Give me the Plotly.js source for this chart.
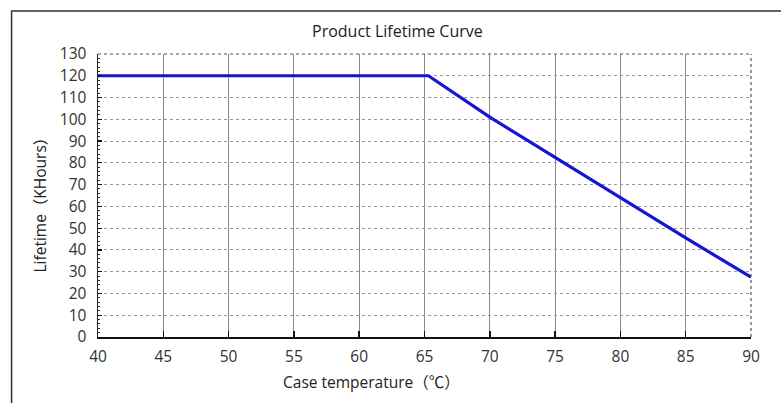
<!DOCTYPE html>
<html>
<head>
<meta charset="utf-8">
<script src="https://cdn.plot.ly/plotly-3.0.1.min.js"></script>
<style>html,body{margin:0;padding:0;background:#fff;}#chart{width:781px;height:403px;}</style>
</head>
<body>
<div id="chart"></div>
<script>
// Data
const temperature = [40, 65.3, 70, 75, 80, 85, 90];
const lifetime = [120, 120, 101, 82.5, 64, 45.5, 27.5];
const xTicks = [40, 45, 50, 55, 60, 65, 70, 75, 80, 85, 90];
const yTicks = [0, 10, 20, 30, 40, 50, 60, 70, 80, 90, 100, 110, 120, 130];
const chartTitle = 'Product Lifetime Curve';
const xTitle = 'Case temperature（℃）';
const yTitle = 'Lifetime（KHours）';

const W = 781, H = 403;
const L = 97.5, R = 751, T = 54, B = 337;
const px = x => (x - L) / (R - L);
const py = y => (B - y) / (B - T);
const FONT = '"Open Sans", "Noto Sans CJK SC", sans-serif';

const trace = {
  x: temperature, y: lifetime, type: 'scatter', mode: 'lines',
  line: {color: '#1515d6', width: 3.2}, hoverinfo: 'skip', cliponaxis: false
};

const layout = {
  width: W, height: H,
  margin: {l: L, r: W - R, t: T, b: H - B, pad: 0},
  paper_bgcolor: '#fff', plot_bgcolor: '#fff',
  showlegend: false,
  font: {family: FONT, size: 15.5, color: '#333'},
  xaxis: {
    range: [40, 90], tickvals: xTicks, ticktext: xTicks.map(String),
    showgrid: true, gridcolor: '#8a8a8a', gridwidth: 1,
    showline: true, linecolor: '#111', linewidth: 2,
    ticks: 'inside', ticklen: 6, tickcolor: '#111', tickwidth: 1.5,
    ticklabelstandoff: 4, zeroline: false, fixedrange: true
  },
  yaxis: {
    range: [0, 130], tickvals: yTicks, ticktext: yTicks.map(String),
    showgrid: true, gridcolor: '#9a9a9a', gridwidth: 1, griddash: 'dot',
    showline: true, linecolor: '#222', linewidth: 1.5,
    ticks: 'inside', ticklen: 4, tickcolor: '#111', tickwidth: 1.2,
    minor: {ticks: 'inside', ticklen: 2, dtick: 2, tickcolor: '#333', tickwidth: 1, showgrid: false},
    ticklabelstandoff: 7, zeroline: false, fixedrange: true
  },
  shapes: [
    {type: 'rect', xref: 'paper', yref: 'paper',
     x0: px(11), x1: px(800), y0: py(420), y1: py(11),
     line: {color: '#333', width: 1.5}, fillcolor: 'rgba(0,0,0,0)', layer: 'below'},
    {type: 'line', xref: 'paper', yref: 'paper', x0: 0, x1: 1, y0: 1, y1: 1,
     line: {color: '#555', width: 1.2, dash: 'dot'}},
    {type: 'line', xref: 'paper', yref: 'paper', x0: 1, x1: 1, y0: 0, y1: 1,
     line: {color: '#555', width: 1.2, dash: 'dot'}}
  ],
  annotations: [
    {text: chartTitle, xref: 'paper', yref: 'paper', x: px(397), y: py(31),
     xanchor: 'center', yanchor: 'middle', showarrow: false,
     font: {family: FONT, size: 16, color: '#222'}},
    {text: xTitle, xref: 'paper', yref: 'paper', x: px(371), y: py(382),
     xanchor: 'center', yanchor: 'middle', showarrow: false,
     font: {family: FONT, size: 15.5, color: '#222'}},
    {text: yTitle, xref: 'paper', yref: 'paper', x: px(39), y: py(201),
     xanchor: 'center', yanchor: 'middle', showarrow: false, textangle: -90,
     font: {family: FONT, size: 15.5, color: '#222'}}
  ]
};

Plotly.newPlot('chart', [trace], layout, {displayModeBar: false, staticPlot: true});
</script>
</body>
</html>
